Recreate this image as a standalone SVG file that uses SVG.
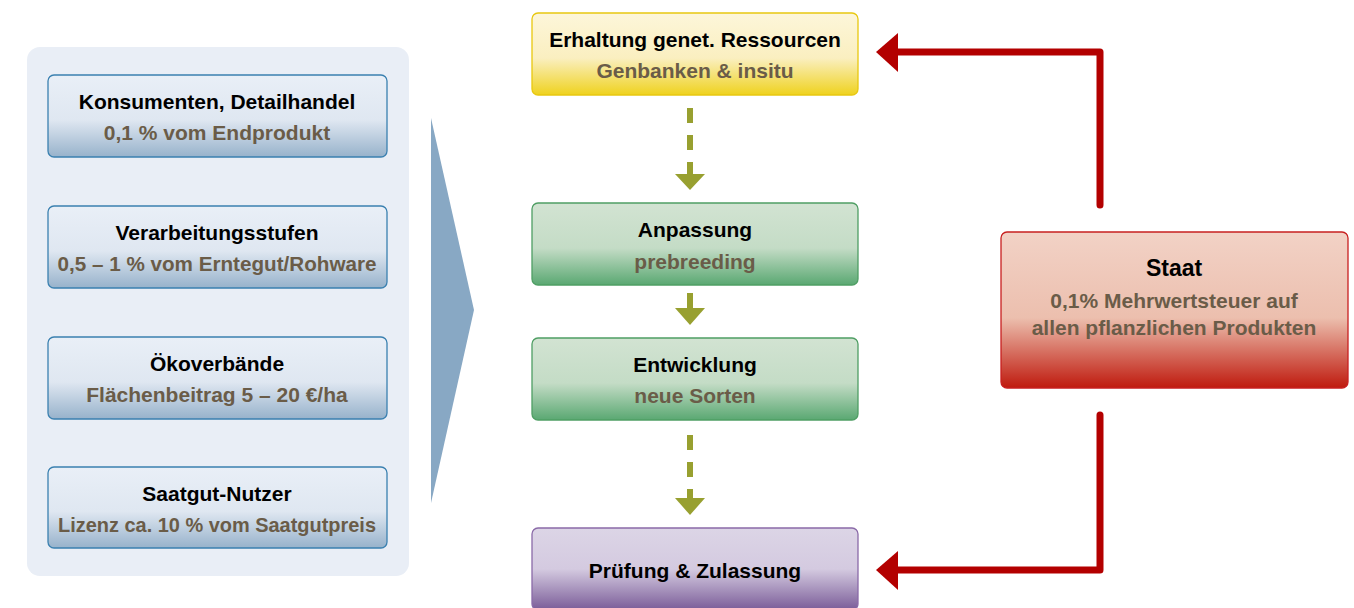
<svg xmlns="http://www.w3.org/2000/svg" width="1354" height="608" viewBox="0 0 1354 608">
<style>
text{font-family:"Liberation Sans",Arial,sans-serif;font-weight:bold;text-anchor:middle}
.t{font-size:21px;fill:#000}
.s{font-size:21px;fill:#6a5c48}
.lb{stroke:#3a80b0;stroke-width:1.3;fill:url(#gBlue)}
.red{fill:none;stroke:#b30000;stroke-width:7;stroke-linecap:round;stroke-linejoin:round}
.dash{fill:none;stroke:#98a030;stroke-width:6;stroke-dasharray:15 12}
</style>
<defs>
<linearGradient id="gBlue" x1="0" y1="0" x2="0" y2="1">
<stop offset="0" stop-color="#e9eff7"/><stop offset="0.55" stop-color="#dfe7f1"/><stop offset="1" stop-color="#97b2cb"/>
</linearGradient>
<linearGradient id="gYel" x1="0" y1="0" x2="0" y2="1">
<stop offset="0" stop-color="#fdf6da"/><stop offset="0.55" stop-color="#faefc0"/><stop offset="1" stop-color="#efd21e"/>
</linearGradient>
<linearGradient id="gGrn" x1="0" y1="0" x2="0" y2="1">
<stop offset="0" stop-color="#d2e3d2"/><stop offset="0.55" stop-color="#c4dcc6"/><stop offset="1" stop-color="#5aa872"/>
</linearGradient>
<linearGradient id="gPur" x1="0" y1="0" x2="0" y2="1">
<stop offset="0" stop-color="#dcd5e6"/><stop offset="0.5" stop-color="#d4cae0"/><stop offset="1" stop-color="#7a5c98"/>
</linearGradient>
<linearGradient id="gRed" x1="0" y1="0" x2="0" y2="1">
<stop offset="0" stop-color="#f2d2c6"/><stop offset="0.55" stop-color="#ecbfae"/><stop offset="1" stop-color="#bf1a0e"/>
</linearGradient>
</defs>

<g id="panel">
<rect x="27" y="47" width="382" height="529" rx="13" fill="#e9eef6"/>
<polygon points="431,118 474,310 431,503" fill="#88a8c4"/>
</g>

<g id="konsumenten">
<rect class="lb" x="48" y="75" width="339" height="82" rx="6"/>
<text class="t" x="217" y="109">Konsumenten, Detailhandel</text>
<text class="s" x="217" y="140">0,1 % vom Endprodukt</text>
</g>
<g id="verarbeitung">
<rect class="lb" x="48" y="206" width="339" height="82" rx="6"/>
<text class="t" x="217" y="240">Verarbeitungsstufen</text>
<text class="s" x="217" y="271" textLength="319" lengthAdjust="spacingAndGlyphs">0,5 – 1 % vom Erntegut/Rohware</text>
</g>
<g id="oekoverbaende">
<rect class="lb" x="48" y="337" width="339" height="82" rx="6"/>
<text class="t" x="217" y="371">Ökoverbände</text>
<text class="s" x="217" y="402">Flächenbeitrag 5 – 20 €/ha</text>
</g>
<g id="saatgut">
<rect class="lb" x="48" y="467" width="339" height="81" rx="6"/>
<text class="t" x="217" y="501">Saatgut-Nutzer</text>
<text class="s" x="217" y="532" textLength="318" lengthAdjust="spacingAndGlyphs">Lizenz ca. 10 % vom Saatgutpreis</text>
</g>

<g id="erhaltung">
<rect x="532" y="13" width="326" height="82" rx="6" fill="url(#gYel)" stroke="#e8c810" stroke-width="1.3"/>
<text class="t" x="695" y="47">Erhaltung genet. Ressourcen</text>
<text class="s" x="695" y="78" style="font-weight:600">Genbanken &amp; insitu</text>
</g>
<g id="anpassung">
<rect x="532" y="203" width="326" height="82" rx="6" fill="url(#gGrn)" stroke="#4f9e64" stroke-width="1.3"/>
<text class="t" x="695" y="237">Anpassung</text>
<text class="s" x="695" y="269" style="font-weight:600">prebreeding</text>
</g>
<g id="entwicklung">
<rect x="532" y="338" width="326" height="82" rx="6" fill="url(#gGrn)" stroke="#4f9e64" stroke-width="1.3"/>
<text class="t" x="695" y="372">Entwicklung</text>
<text class="s" x="695" y="403" style="font-weight:600">neue Sorten</text>
</g>
<g id="pruefung">
<rect x="532" y="528" width="326" height="82" rx="6" fill="url(#gPur)" stroke="#8a6aa8" stroke-width="1.3"/>
<text class="t" x="695" y="578">Prüfung &amp; Zulassung</text>
</g>

<g id="staat">
<rect x="1001" y="232" width="347" height="156" rx="6" fill="url(#gRed)" stroke="#c82020" stroke-width="1.3"/>
<text x="1174" y="276" style="font-size:23px;fill:#000">Staat</text>
<text class="s" x="1174" y="308">0,1% Mehrwertsteuer auf</text>
<text class="s" x="1174" y="335">allen pflanzlichen Produkten</text>
</g>

<g id="connectors">
<path class="dash" d="M690,108 V175"/>
<polygon points="675,174 705,174 690,190" fill="#98a030"/>
<path class="dash" d="M690,293 V308"/>
<polygon points="675,308 705,308 690,325" fill="#98a030"/>
<path class="dash" d="M690,435 V499"/>
<polygon points="675,498 705,498 690,515" fill="#98a030"/>
<path class="red" d="M1100,205 V52 H895"/>
<polygon points="876,52 898,33 898,72" fill="#b30000"/>
<path class="red" d="M1100,415 V570 H895"/>
<polygon points="876,570 898,551 898,590" fill="#b30000"/>
</g>
</svg>
